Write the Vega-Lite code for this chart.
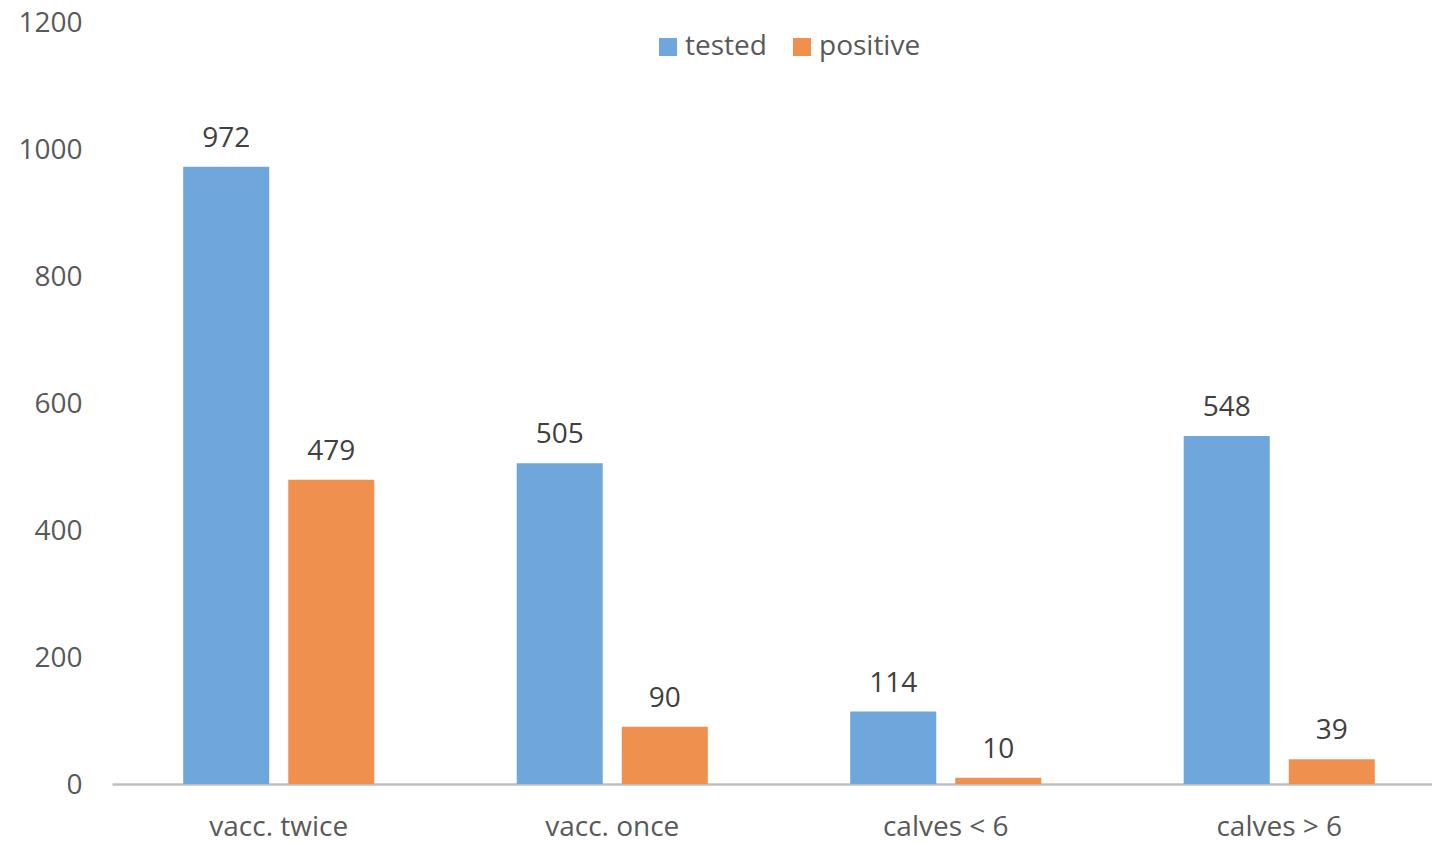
{
  "$schema": "https://vega.github.io/schema/vega-lite/v6.json",
  "autosize": "none",
  "width": 1334,
  "height": 762,
  "padding": {"left": 112, "top": 22, "right": 0, "bottom": 59},
  "background": "white",
  "config": {
    "view": {"stroke": null},
    "font": "Open Sans",
    "axis": {"labelColor": "#595959", "labelFont": "Open Sans"}
  },
  "data": {
    "values": [
      {"group": "vacc. twice", "series": "tested", "value": 972},
      {"group": "vacc. twice", "series": "positive", "value": 479},
      {"group": "vacc. once", "series": "tested", "value": 505},
      {"group": "vacc. once", "series": "positive", "value": 90},
      {"group": "calves < 6", "series": "tested", "value": 114},
      {"group": "calves < 6", "series": "positive", "value": 10},
      {"group": "calves > 6", "series": "tested", "value": 548},
      {"group": "calves > 6", "series": "positive", "value": 39}
    ]
  },
  "encoding": {
    "x": {
      "field": "group",
      "type": "nominal",
      "sort": ["vacc. twice", "vacc. once", "calves < 6", "calves > 6"],
      "scale": {"paddingInner": 0.427, "paddingOuter": 0.2135},
      "axis": {
        "title": null,
        "labelAngle": 0,
        "labelFontSize": 28,
        "labelPadding": 29,
        "ticks": false,
        "domainColor": "#bfbfbf",
        "domainWidth": 2.5,
        "grid": false
      }
    },
    "xOffset": {
      "field": "series",
      "type": "nominal",
      "sort": ["tested", "positive"],
      "scale": {"paddingInner": 0.181, "paddingOuter": 0}
    },
    "y": {
      "field": "value",
      "type": "quantitative",
      "scale": {"domain": [0, 1200], "nice": false},
      "axis": {
        "title": null,
        "values": [0, 200, 400, 600, 800, 1000, 1200],
        "format": "d",
        "labelFontSize": 28,
        "labelPadding": 30,
        "labelOffset": 1,
        "ticks": false,
        "domain": false,
        "grid": false
      }
    }
  },
  "layer": [
    {
      "mark": {"type": "bar"},
      "encoding": {
        "color": {
          "field": "series",
          "type": "nominal",
          "sort": ["tested", "positive"],
          "scale": {"domain": ["tested", "positive"], "range": ["#6fa6dc", "#f0904f"]},
          "legend": {
            "title": null,
            "orient": "none",
            "direction": "horizontal",
            "legendX": 542,
            "legendY": 11,
            "symbolType": "square",
            "symbolSize": 324,
            "symbolStrokeWidth": 0,
            "labelFontSize": 28,
            "labelColor": "#595959",
            "labelOffset": 3,
            "columnPadding": 21
          }
        }
      }
    },
    {
      "mark": {"type": "text", "baseline": "bottom", "dy": -14, "fontSize": 28, "color": "#404040"},
      "encoding": {
        "text": {"field": "value", "type": "quantitative"}
      }
    }
  ]
}
